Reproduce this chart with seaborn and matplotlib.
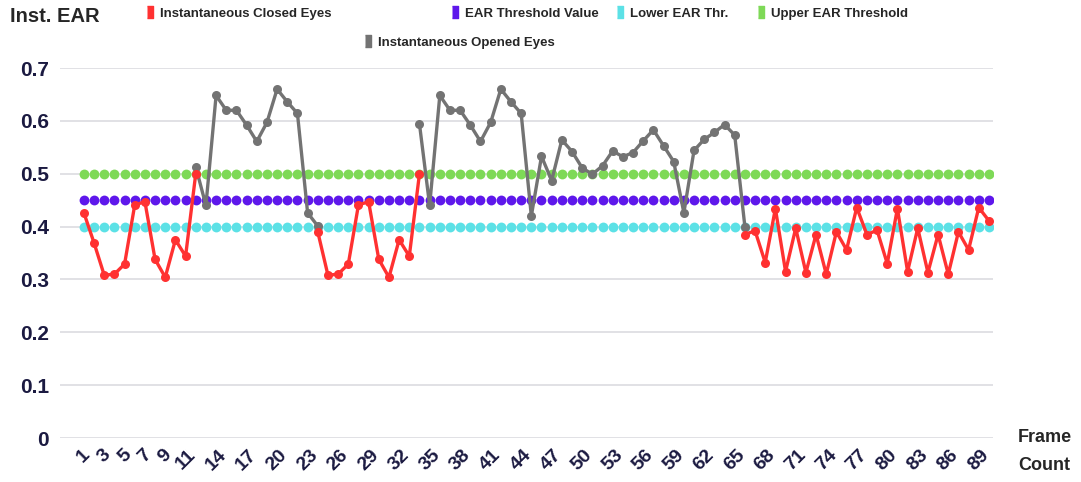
import numpy as np
import pandas as pd
import matplotlib
matplotlib.use('Agg')
import matplotlib.pyplot as plt
import seaborn as sns
from matplotlib.lines import Line2D

nan = np.nan

frames = list(range(1, 91))

closed_eyes = [
    0.426, 0.369, 0.308, 0.310, 0.329, 0.441, 0.447, 0.338, 0.304, 0.375,  # 1-10
    0.344, 0.500, nan, nan, nan, nan, nan, nan, nan, nan,  # 11-20
    nan, nan, nan, 0.390, 0.308, 0.310, 0.329, 0.441, 0.447, 0.338,  # 21-30
    0.304, 0.375, 0.344, 0.500, nan, nan, nan, nan, nan, nan,  # 31-40
] + [nan] * 20 + [
    nan, nan, nan, nan, nan, 0.385, 0.392, 0.332, 0.434, 0.315,  # 61-70
    0.397, 0.313, 0.385, 0.310, 0.390, 0.356, 0.436, 0.385, 0.393, 0.330,  # 71-80
    0.434, 0.315, 0.397, 0.313, 0.385, 0.310, 0.390, 0.356, 0.436, 0.411,  # 81-90
]

opened_eyes = [nan] * 10 + [
    nan, 0.513, 0.440, 0.648, 0.620, 0.620, 0.592, 0.561, 0.597, 0.660,  # 11-20
    0.636, 0.614, 0.426, 0.401, nan, nan, nan, nan, nan, nan,  # 21-30
    nan, nan, nan, 0.594, 0.440, 0.648, 0.620, 0.620, 0.592, 0.561,  # 31-40
    0.597, 0.660, 0.636, 0.614, 0.420, 0.533, 0.487, 0.564, 0.542, 0.511,  # 41-50
    0.499, 0.515, 0.543, 0.532, 0.540, 0.562, 0.583, 0.553, 0.523, 0.426,  # 51-60
    0.544, 0.565, 0.578, 0.593, 0.573, 0.400, nan, nan, nan, nan,  # 61-70
] + [nan] * 20

ear_threshold = 0.45
lower_threshold = 0.40
upper_threshold = 0.50

tick_frames = [1, 3, 5, 7, 9, 11] + list(range(14, 90, 3))
y_ticks = [0, 0.1, 0.2, 0.3, 0.4, 0.5, 0.6, 0.7]
y_labels = ['0', '0.1', '0.2', '0.3', '0.4', '0.5', '0.6', '0.7']

colors = {
    'closed': '#ff3131',
    'opened': '#737373',
    'thr': '#5e17eb',
    'lower': '#5ce1e6',
    'upper': '#7ed957',
}
navy = '#1b1a41'

df = pd.DataFrame({
    'frame': frames,
    'closed': closed_eyes,
    'opened': opened_eyes,
    'thr': [ear_threshold] * len(frames),
    'lower': [lower_threshold] * len(frames),
    'upper': [upper_threshold] * len(frames),
})

sns.set_style('white')
plt.rcParams['font.family'] = ['Liberation Sans', 'DejaVu Sans']

fig = plt.figure(figsize=(10.81, 4.82), dpi=100)
ax = fig.add_axes([60 / 1081, 44 / 482, 933 / 1081, 370 / 482])

# threshold dots
for key in ['upper', 'thr', 'lower']:
    sns.scatterplot(data=df, x='frame', y=key, color=colors[key], s=50, linewidth=0,
                    ax=ax, zorder=2, legend=False)

# eye state lines, broken where values are missing
for key in ['opened', 'closed']:
    d = df[['frame', key]].copy()
    d['seg'] = d[key].isna().cumsum()
    d = d.dropna()
    sns.lineplot(data=d, x='frame', y=key, units='seg', estimator=None, color=colors[key],
                 marker='o', markersize=6.5, markeredgewidth=0, linewidth=2.4,
                 ax=ax, zorder=3, legend=False)

ax.set_xlim(-1.35, 90.4)
ax.set_ylim(0, 0.7)
ax.set_yticks(y_ticks)
ax.set_yticklabels(y_labels, fontsize=15, fontweight='bold', color=navy)
ax.set_xticks(tick_frames)
ax.set_xticklabels([str(t) for t in tick_frames], rotation=45, ha='center', va='top',
                   fontsize=14, fontweight='bold', color=navy)
ax.tick_params(axis='both', length=0)
ax.tick_params(axis='x', pad=6)
ax.tick_params(axis='y', pad=8)
ax.set_xlabel('')
ax.set_ylabel('')
ax.grid(axis='y', color='#d9d9de', linewidth=1.1)
ax.set_axisbelow(True)
for s in ax.spines.values():
    s.set_visible(False)

fig.text(10 / 1081, 1 - 17 / 482, 'Inst. EAR', fontsize=14.5, fontweight='bold', va='center', ha='left')
fig.text(1018 / 1081, 1 - 438 / 482, 'Frame', fontsize=13, fontweight='bold', va='center', ha='left')
fig.text(1018 / 1081, 1 - 465 / 482, 'Count', fontsize=13, fontweight='bold', va='center', ha='left')

# legend entries, placed individually
rect = [(-0.3, -0.5), (0.3, -0.5), (0.3, 0.5), (-0.3, 0.5)]
entries = [
    ('Instantaneous Closed Eyes', 'closed', 147, 14),
    ('EAR Threshold Value', 'thr', 452, 14),
    ('Lower EAR Thr.', 'lower', 617, 14),
    ('Upper EAR Threshold', 'upper', 758, 14),
    ('Instantaneous Opened Eyes', 'opened', 365, 43),
]
for label, key, px, py in entries:
    h = Line2D([], [], marker=rect, linestyle='', color=colors[key], markersize=8)
    fig.legend(handles=[h], labels=[label], loc='center left',
               bbox_to_anchor=(px / 1081, 1 - py / 482), frameon=False,
               handlelength=0.5, handletextpad=0.45, borderpad=0, borderaxespad=0,
               prop={'size': 9.5, 'weight': 'bold'})

fig.savefig('out.png', dpi=100)
